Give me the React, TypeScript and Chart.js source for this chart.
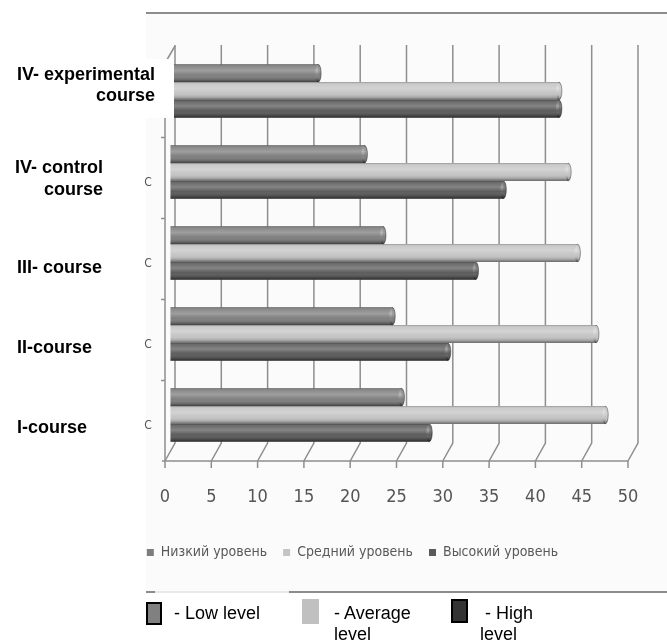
import { useEffect, useRef } from 'react';
import { Chart, registerables } from 'chart.js';

Chart.register(...registerables);

// ---------- data ----------
const categories: string[][] = [
  ['IV- experimental', 'course'],
  ['IV- control', 'course'],
  ['III- course'],
  ['II-course'],
  ['I-course'],
];
const seriesNames = ['Низкий уровень', 'Средний уровень', 'Высокий уровень'];
const lowLevel = [16, 21, 23, 24, 25];
const averageLevel = [42, 43, 44, 46, 47];
const highLevel = [42, 36, 33, 30, 28];
const xMin = 0;
const xMax = 50;
const xStep = 5;
const axisRemnant = 'C';
const englishLegend: string[][] = [['- Low level'], ['- Average', 'level'], ['\u00a0- High', 'level']];

// ---------- styles ----------
const seriesColors = ['#7d7d7d', '#c4c4c4', '#5a5a5a'];
const NARROW = "'Liberation Sans Narrow', 'DejaVu Sans Condensed', 'Roboto Condensed', 'Liberation Sans', sans-serif";
const BOLD = "'Liberation Sans', Arial, sans-serif";
const labelLayout = [
  { align: 'right', x: 155, dy: [-11, 10] },
  { align: 'right', x: 103, dy: [1, 23] },
  { align: 'left', x: 17, dy: [20] },
  { align: 'left', x: 17, dy: [19] },
  { align: 'left', x: 17, dy: [18] },
];

const framePlugin = {
  id: 'frame3d',
  beforeDraw(chart: any) {
    const ctx = chart.ctx;
    ctx.save();
    ctx.fillStyle = '#fbfbfb';
    ctx.fillRect(146, 13, 521, 579);
    ctx.restore();
  },
  beforeDatasetsDraw(chart: any) {
    const ctx = chart.ctx;
    const xs = chart.scales.x;
    const ys = chart.scales.y;
    const area = chart.chartArea;
    const gridTop = area.top - 5.5;
    const back = area.bottom - 12.5;
    const front = area.bottom + 5.5;
    ctx.save();
    ctx.strokeStyle = '#8e8e8e';
    ctx.lineWidth = 1.5;
    for (let v = xMin; v <= xMax; v += xStep) {
      const px = xs.getPixelForValue(v);
      ctx.beginPath();
      ctx.moveTo(px + 5, gridTop);
      ctx.lineTo(px + 5, back);
      ctx.lineTo(px - 5, front);
      ctx.moveTo(px - 5, front);
      ctx.lineTo(px - 5, front + 7);
      ctx.stroke();
    }
    const p0 = xs.getPixelForValue(xMin);
    const p1 = xs.getPixelForValue(xMax);
    ctx.beginPath();
    ctx.moveTo(p0 - 8, front);
    ctx.lineTo(p1 - 5, front);
    ctx.stroke();
    // left wall
    ctx.beginPath();
    ctx.moveTo(p0 - 5, front);
    ctx.lineTo(p0 - 5, gridTop + 18);
    ctx.lineTo(p0 + 5, gridTop + 1);
    ctx.stroke();
    for (let i = 1; i < categories.length; i++) {
      const yb = (ys.getPixelForValue(i - 1) + ys.getPixelForValue(i)) / 2 + 6;
      ctx.beginPath();
      ctx.moveTo(p0 - 9, yb);
      ctx.lineTo(p0 - 5, yb);
      ctx.stroke();
    }
    ctx.restore();
  },
};

const shadingPlugin = {
  id: 'cylinderShading',
  afterDatasetDraw(chart: any, args: any) {
    const ctx = chart.ctx;
    const meta = args.meta;
    const color = chart.data.datasets[args.index].backgroundColor;
    ctx.save();
    meta.data.forEach((el: any) => {
      const p = el.getProps(['x', 'y', 'base', 'height'], true);
      const left = Math.min(p.x, p.base);
      const right = Math.max(p.x, p.base);
      const h = p.height;
      const top = p.y - h / 2;
      const g = ctx.createLinearGradient(0, top, 0, top + h);
      g.addColorStop(0, 'rgba(0,0,0,0.28)');
      g.addColorStop(0.1, 'rgba(255,255,255,0.10)');
      g.addColorStop(0.35, 'rgba(255,255,255,0.26)');
      g.addColorStop(0.6, 'rgba(255,255,255,0.02)');
      g.addColorStop(0.88, 'rgba(0,0,0,0.2)');
      g.addColorStop(1, 'rgba(0,0,0,0.5)');
      ctx.beginPath();
      ctx.ellipse(right, p.y, 3, h / 2, 0, 0, Math.PI * 2);
      ctx.fillStyle = color;
      ctx.fill();
      ctx.fillStyle = g;
      ctx.fill();
      ctx.fillRect(left, top, right - left, h);
      ctx.beginPath();
      ctx.ellipse(right, p.y, 3, h / 2, 0, -Math.PI / 2, Math.PI / 2);
      ctx.strokeStyle = 'rgba(0,0,0,0.35)';
      ctx.lineWidth = 1;
      ctx.stroke();
    });
    ctx.restore();
  },
};

const overlayPlugin = {
  id: 'overlay',
  afterDraw(chart: any) {
    const ctx = chart.ctx;
    const ys = chart.scales.y;
    ctx.save();
    // frame lines of the figure
    ctx.fillStyle = '#8c8c8c';
    ctx.fillRect(146, 12, 521, 2);
    ctx.fillRect(146, 591, 9, 2);
    ctx.fillStyle = '#e8e8e8';
    ctx.fillRect(155, 591, 134, 2);
    ctx.fillStyle = '#8c8c8c';
    ctx.fillRect(289, 591, 378, 2);
    // white label box over the top category
    ctx.fillStyle = '#ffffff';
    ctx.fillRect(0, 59, 174, 59);
    // category labels
    ctx.fillStyle = '#000000';
    ctx.font = `bold 18px ${BOLD}`;
    ctx.textBaseline = 'alphabetic';
    categories.forEach((lines, i) => {
      const c = ys.getPixelForValue(i);
      const lay = labelLayout[i];
      ctx.textAlign = lay.align as CanvasTextAlign;
      lines.forEach((t, j) => ctx.fillText(t, lay.x, c + lay.dy[j]));
    });
    // remnants of original axis labels
    ctx.fillStyle = '#555555';
    ctx.font = `12px ${NARROW}`;
    ctx.textAlign = 'center';
    for (let i = 1; i < categories.length; i++) {
      ctx.fillText(axisRemnant, 148, ys.getPixelForValue(i) + 14);
    }
    ctx.restore();
  },
};

export default function App() {
  const ref = useRef<HTMLCanvasElement | null>(null);
  useEffect(() => {
    if (!ref.current) return;
    const chart = new Chart(ref.current, {
      type: 'bar',
      data: {
        labels: categories,
        datasets: [
          { label: seriesNames[0], data: lowLevel, backgroundColor: seriesColors[0], borderWidth: 0 },
          { label: seriesNames[1], data: averageLevel, backgroundColor: seriesColors[1], borderWidth: 0 },
          { label: seriesNames[2], data: highLevel, backgroundColor: seriesColors[2], borderWidth: 0 },
        ],
      },
      options: {
        indexAxis: 'y',
        responsive: false,
        animation: false,
        devicePixelRatio: 1,
        datasets: { bar: { categoryPercentage: 0.658, barPercentage: 1 } },
        layout: { padding: { left: 72, right: 34, top: 50.5, bottom: 73.5 } },
        scales: {
          x: {
            min: xMin,
            max: xMax,
            ticks: { stepSize: xStep, padding: 21.4, labelOffset: -5, color: '#555555', font: { family: NARROW, size: 18 } },
            grid: { display: true, drawOnChartArea: false, drawTicks: true, tickLength: 9.6, color: 'rgba(0,0,0,0)' },
            border: { display: false },
          },
          y: {
            ticks: { display: false },
            grid: { display: false },
            border: { display: false },
            afterFit: (s: any) => { s.width = 98; },
          },
        },
        plugins: {
          legend: {
            position: 'bottom',
            labels: { boxWidth: 7, boxHeight: 7, padding: 16, color: '#595959', font: { family: NARROW, size: 14 } },
          },
          tooltip: { enabled: false },
        },
      } as any,
      plugins: [framePlugin, shadingPlugin, overlayPlugin],
    });
    return () => chart.destroy();
  }, []);

  const txt: React.CSSProperties = {
    position: 'absolute', fontFamily: BOLD, fontSize: 18, lineHeight: '21px', color: '#000', whiteSpace: 'pre',
  };
  return (
    <div style={{ position: 'absolute', left: 0, top: 0, width: 667, height: 643, overflow: 'hidden', background: '#fff' }}>
      <canvas ref={ref} width={667} height={643} style={{ position: 'absolute', left: 0, top: 0, width: 667, height: 643 }} />
      <div style={{ position: 'absolute', left: 146, top: 602, width: 16, height: 23, boxSizing: 'border-box', border: '2px solid #000', background: '#808080' }} />
      <div style={{ ...txt, left: 174, top: 603 }}>{englishLegend[0].join('\n')}</div>
      <div style={{ position: 'absolute', left: 302, top: 599, width: 17, height: 25, background: '#c0c0c0' }} />
      <div style={{ ...txt, left: 334, top: 603 }}>{englishLegend[1].join('\n')}</div>
      <div style={{ position: 'absolute', left: 451, top: 599, width: 17, height: 24, boxSizing: 'border-box', border: '2px solid #000', background: '#333333' }} />
      <div style={{ ...txt, left: 480, top: 603 }}>{englishLegend[2].join('\n')}</div>
    </div>
  );
}
